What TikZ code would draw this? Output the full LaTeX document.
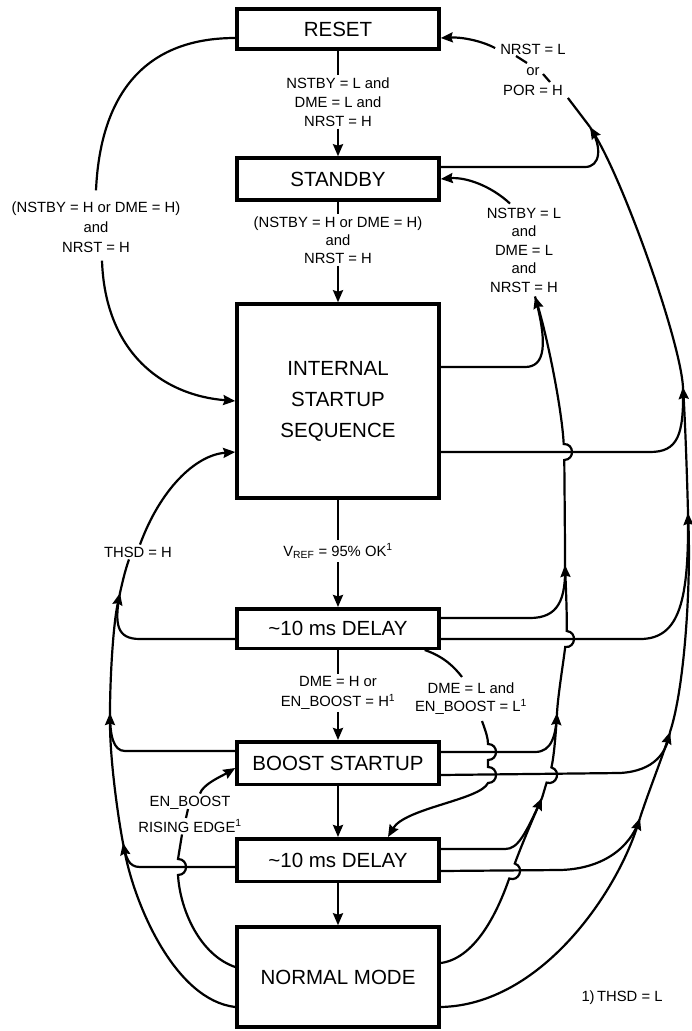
\documentclass[tikz,border=0pt]{standalone}
\usepackage{fontspec}
\setmainfont{Liberation Sans}
\usetikzlibrary{arrows.meta,calc}
\begin{document}
\begin{tikzpicture}[x=1pt,y=-1pt,
  box/.style={draw, line width=3.5pt, minimum width=202pt, inner sep=0pt, align=center,
              font=\fontsize{20.5}{31}\selectfont},
  lbl/.style={inner sep=2pt, align=center},
  conn/.style={line width=2.2pt},
  arr/.style={conn, -{Stealth[length=12pt,width=10pt,inset=1.5pt]}},
]
\fill[white] (0,0) rectangle (691,1031);
\useasboundingbox (0,0) rectangle (691,1031);

% ---- state boxes
\node[box, minimum height=40pt]   (reset)   at (338,29)    {RESET};
\node[box, minimum height=42pt]   (standby) at (338,179)   {STANDBY};
\node[box, minimum height=194pt]  (iss)     at (338,401)   {INTERNAL\\STARTUP\\SEQUENCE};
\node[box, minimum height=39.5pt] (dly1)    at (338,628.5) {\textasciitilde10 ms DELAY};
\node[box, minimum height=42.5pt] (boost)   at (338,763)   {BOOST STARTUP};
\node[box, minimum height=42.5pt] (dly2)    at (338,860)   {\textasciitilde10 ms DELAY};
\node[box, minimum height=100pt]  (normal)  at (338,977)   {NORMAL MODE};

% ---- labels
\node[lbl, font=\fontsize{14.8}{19}\selectfont] (lrs) at (338,102) {NSTBY = L and\\DME = L and\\NRST = H};
\node[lbl, font=\fontsize{14.8}{18}\selectfont] (lsi) at (338,240) {(NSTBY = H or DME = H)\\and\\NRST = H};
\node[lbl, font=\fontsize{14.8}{18}\selectfont, inner sep=4pt] (lvref) at (338,551) {V\textsubscript{REF} = 95\% OK\textsuperscript{1}};
\node[lbl, font=\fontsize{14.8}{20}\selectfont] (ldb) at (338,693) {DME = H or\\EN\_BOOST = H\textsuperscript{1}};
\node[lbl, font=\fontsize{14.8}{20}\selectfont] (lleft) at (96,227) {(NSTBY = H or DME = H)\\and\\NRST = H};
\node[lbl, font=\fontsize{14.8}{18}\selectfont] (lthsd) at (138,552) {THSD = H};
\node[lbl, font=\fontsize{14.8}{26}\selectfont] (lenb) at (190,814) {EN\_BOOST\\RISING EDGE\textsuperscript{1}};
\node[lbl, font=\fontsize{14.8}{20.5}\selectfont] (lrst) at (533,70) {NRST = L\\or\\POR = H};
\node[lbl, font=\fontsize{14.8}{18.5}\selectfont] (lstb) at (524,250) {NSTBY = L\\and\\DME = L\\and\\NRST = H};
\node[lbl, font=\fontsize{14.8}{18}\selectfont] (ldme) at (471,699) {DME = L and\\EN\_BOOST = L\textsuperscript{1}};
\node[lbl, font=\fontsize{14.8}{18}\selectfont] (fn) at (622,998) {1)\,THSD = L};

% ---- junction coordinates
\coordinate (L1) at (123,843);
\coordinate (L2) at (110,713);
\coordinate (L3) at (120,593);
\coordinate (R3a) at (640,818);
\coordinate (R3b) at (670,732);
\coordinate (R3c) at (688,513);
\coordinate (R3d) at (683,387);
\coordinate (R3e) at (590,127);
\coordinate (R2a) at (542,798);
\coordinate (R2b) at (557,713);
\coordinate (R2c) at (565,565);
\coordinate (R2d) at ($(lstb.south)+(11,2)$);

% ---- main vertical flow
\draw[conn] (reset) -- (lrs);
\draw[arr]  (lrs) -- (standby);
\draw[conn] (standby) -- (lsi);
\draw[arr]  (lsi) -- (iss);
\draw[conn] (iss) -- (lvref);
\draw[arr]  (lvref) -- (dly1);
\draw[conn] (dly1) -- (ldb);
\draw[arr]  (ldb) -- (boost);
\draw[arr]  (boost) -- (dly2);
\draw[arr]  (dly2) -- (normal);

% ---- RESET -> ISS (left top)
\draw[conn] ($(reset.west)+(0,9)$) .. controls (140,38) and (100,100) .. ($(lleft.north)+(0,-9)$);
\draw[arr] ($(lleft.south)+(6,6)$) .. controls (105,350) and (160,395) .. (iss.west);

% ---- THSD column (left)
\draw[arr] ($(normal.west)+(0,30)$) .. controls (175,1000) and (135,905) .. (L1);
\draw[arr] (L1) .. controls (118,817) and (110,760) .. (L2);
\draw[arr] (L2) .. controls (110,680) and (113,625) .. (L3);
\draw[conn] (L3) .. controls (123.5,577) and (126,568) .. ($(lthsd.south)+(-9,0)$);
\draw[arr] ($(lthsd.north)+(2,0)$) .. controls (160,490) and (195,455) .. ($(iss.west)+(0,51)$);
\draw[conn] ($(dly1.west)+(0,10.5)$) -- (140,639) .. controls (117,639) and (114,625) .. (L3);
\draw[conn] ($(boost.west)+(0,-12)$) -- (125,751) .. controls (113,751) and (110,735) .. (L2);
\draw[conn] ($(dly2.west)+(0,7)$) -- (140,867) .. controls (128,867) and (126,857) .. (L1);

% ---- EN_BOOST rising edge
\draw[conn] ($(normal.west)+(0,-10)$) .. controls (200,955) and (180,910) .. (178,875)
   .. controls (188.7,875) and (188.7,859) .. (178,859) -- ($(lenb.south)+(-8,0)$);
\draw[conn] ($(lenb.center)+(-2,-5)$) -- ($(lenb.center)+(-4,4)$);
\draw[arr] ($(lenb.north)+(10,0)$) .. controls (203,784) and (222,776) .. ($(boost.west)+(0,5)$);

% ---- outer right column to RESET
\draw[arr] ($(normal.east)+(0,30)$) .. controls (540,1005) and (615,895) .. (R3a);
\draw[arr] (R3a) .. controls (647,796) and (663,755) .. (R3b);
\draw[arr] (R3b) .. controls (684,690) and (691,590) .. (R3c);
\draw[arr] (R3c) .. controls (687,473) and (685,420) .. (R3d);
\draw[arr] (R3d) .. controls (680,340) and (625,185) .. (R3e);
\draw[conn] (R3e) -- (lrst.south east);
\draw[conn] ($(lrst.center)+(-17,-14)$) -- ($(lrst.center)+(-6,-7)$);
\draw[conn] ($(lrst.center)+(10,4)$) -- ($(lrst.center)+(17,12)$);
\draw[arr] ($(lrst.north west)+(-3,6)$) .. controls (480,40) and (460,37) .. ($(reset.east)+(0,9)$);
\draw[conn] ($(standby.east)+(0,-12)$) -- (585,167) .. controls (600,167) and (603,148) .. (R3e);
\draw[conn] ($(iss.east)+(0,51)$) -- (650,452) .. controls (678,452) and (684,435) .. (R3d);
\draw[conn] ($(dly1.east)+(0,10.5)$) -- (640,639) .. controls (680,639) and (689,600) .. (R3c);
\draw[conn] ($(boost.east)+(0,12)$) -- (620,773) .. controls (655,771) and (667,752) .. (R3b);
\draw[conn] ($(dly2.east)+(0,11)$) -- (560,870) .. controls (600,869) and (630,850) .. (R3a);

% ---- second right column to STANDBY
\draw[arr] ($(normal.east)+(0,-14)$) .. controls (478,958) and (500,905) .. (509.2,878.5)
   .. controls (519.2,882.2) and (524.8,867.2) .. (514.8,863.5)
   .. controls (519,852) and (530,825) .. (R2a);
\draw[arr] (R2a) -- (546.6,782.6) .. controls (556.8,785.8) and (561.6,770.6) .. (551.4,767.4)
   .. controls (554,757) and (556,730) .. (R2b);
\draw[arr] (R2b) .. controls (558,695) and (563,665) .. (565.2,647)
   .. controls (575.8,648.1) and (577.4,632.1) .. (566.8,631)
   .. controls (567,615) and (566,590) .. (R2c);
\draw[arr] (R2c) .. controls (565,530) and (564.5,490) .. (564.3,460)
   .. controls (575,459.6) and (574.4,443.6) .. (563.7,444)
   .. controls (562,410) and (548,340) .. (R2d);
\draw[conn] ($(iss.east)+(0,-34)$) -- (525,367) .. controls (545,367) and (548,345) .. (R2d);
\draw[conn] ($(dly1.east)+(0,-10.5)$) -- (530,618) .. controls (558,618) and (566,600) .. (R2c);
\draw[conn] ($(boost.east)+(0,-11)$) -- (535,752) .. controls (552,752) and (556,735) .. (R2b);
\draw[conn] ($(dly2.east)+(0,-11)$) -- (505,849) .. controls (518,849) and (525,835) .. (R2a);
\draw[arr] ($(lstb.north)+(-14,-2)$) .. controls (490,185) and (465,177) .. (standby.east);

% ---- DME = L and EN_BOOST = L
\draw[conn] ($(dly1.south east)+(-16,0)$) .. controls (445,657) and (455,668) .. ($(ldme.north)+(-9,-4)$);
\draw[arr] ($(ldme.south)+(11,4)$) .. controls (486,732) and (488,738) .. (488,744)
   .. controls (498.7,744) and (498.7,760) .. (488,760) -- (488,767)
   .. controls (498.7,767) and (498.7,783) .. (488,783)
   .. controls (480,800) and (405,808) .. ($(dly2.north)+(50,0)$);
\end{tikzpicture}
\end{document}
